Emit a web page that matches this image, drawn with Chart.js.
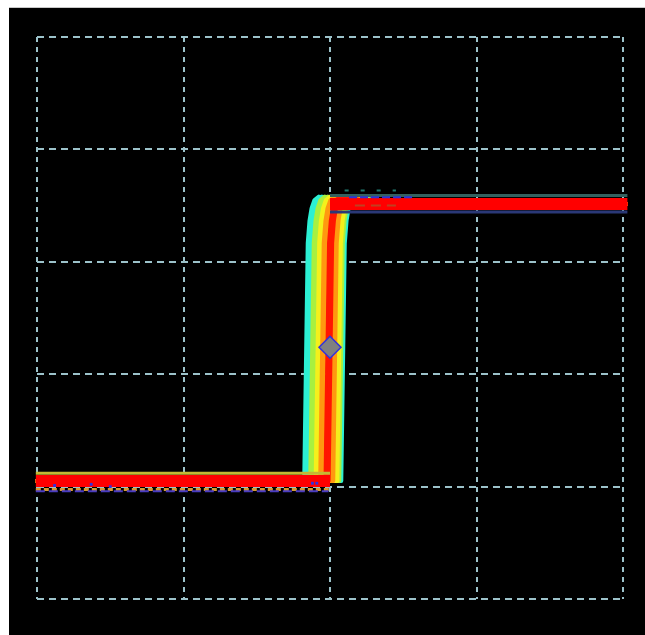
<!DOCTYPE html>
<html>
<head>
<meta charset="utf-8">
<script src="https://cdn.jsdelivr.net/npm/chart.js@4/dist/chart.umd.min.js"></script>
<style>
  html, body { margin: 0; padding: 0; background: #ffffff; }
  #panel { position: absolute; left: 9px; top: 7px; width: 636px; height: 628px; background: #000; border-top: 1px solid #c8c8c8; box-sizing: border-box; }
  #scope { position: absolute; left: 0; top: 0; }
</style>
</head>
<body>
<div id="panel"></div>
<canvas id="scope" width="645" height="635"></canvas>
<script>
// Screen: 4 horizontal x 5 vertical divisions
const xDivs = [0, 4];
const yDivs = [0, 5];

// Logic levels of the step (divisions from the bottom graticule line)
const lowLevel = 1.05;
const highLevel = 3.515;

// Horizontal extent of the recorded sweep
const sweepStart = -0.008;
const sweepEnd = 4.03;

// Rising-edge crossing times (50 % point) of the accumulated traces, by hit density
const rareEdges = [1.836, 1.857, 2.089];
const lowDensityEdges = [1.877, 1.898, 2.075];
const midDensityEdges = [1.914, 1.930, 2.048, 2.062];
const highDensityEdges = [1.945, 1.959, 2.020, 2.034];
const peakDensityEdges = [1.978, 1.993, 2.006];

// Isolated hits recorded on the flat parts of the waveform
const strayHitsX = [0.12, 0.37, 0.50, 1.88, 1.91];
const strayHitsY = [1.01, 1.02, 1.00, 1.03, 1.03];

// Reference marker at the 50 % crossing
const markerX = 2.0;
const markerY = 2.24;

// Colour ramp of the persistence display
const densityColors = {
  rare: '#2cf0d4',
  low: '#a8f040',
  mid: '#f4f01c',
  high: '#ff9810',
  peak: '#ff1600'
};

// One acquisition: flat low level, near-vertical edge, rounded settle into the high level
function edgeTrace(e) {
  return [
    { x: sweepStart, y: lowLevel },
    { x: e - 0.012, y: lowLevel },
    { x: e + 0.012, y: highLevel - 0.35 },
    { x: e + 0.024, y: highLevel - 0.15 },
    { x: e + 0.038, y: highLevel - 0.04 },
    { x: e + 0.058, y: highLevel + 0.035 },
    { x: e + 0.088, y: highLevel + 0.065 },
    { x: e + 0.14, y: highLevel + 0.055 },
    { x: e + 0.22, y: highLevel + 0.03 },
    { x: e + 0.40, y: highLevel },
    { x: sweepEnd, y: highLevel }
  ];
}

const layers = [];
function addEdges(list, color, width) {
  list.forEach(e => layers.push({
    type: 'line', data: edgeTrace(e), borderColor: color, borderWidth: width,
    pointRadius: 0, tension: 0, borderJoinStyle: 'round', clip: false
  }));
}
function addBand(x0, x1, level, color, width, dash) {
  layers.push({
    type: 'line', data: [{ x: x0, y: level }, { x: x1, y: level }],
    borderColor: color, borderWidth: width, borderDash: dash || [],
    pointRadius: 0, clip: false
  });
}

addEdges(rareEdges, densityColors.rare, 4);
addEdges(lowDensityEdges, densityColors.low, 4);
addEdges(midDensityEdges, densityColors.mid, 4);
addEdges(highDensityEdges, densityColors.high, 4);
addEdges(peakDensityEdges, densityColors.peak, 3);

// Low level band with its fringes
addBand(sweepStart, 2.0, lowLevel + 0.068, '#c4b834', 3);
addBand(sweepStart, 2.0, lowLevel - 0.075, '#d89a34', 3, [5, 3]);
addBand(sweepStart, 1.99, lowLevel - 0.092, '#4a3cc0', 2, [9, 4]);
addBand(sweepStart, 2.0, lowLevel, '#ff0000', 12);

// High level band with its fringes
addBand(2.10, 2.45, highLevel + 0.12, '#1f7a70', 2, [4, 12]);
addBand(2.0, sweepEnd, highLevel + 0.075, '#33605f', 3);
addBand(2.0, sweepEnd, highLevel - 0.072, '#2a3876', 3);
addBand(2.0, sweepEnd, highLevel, '#ff0000', 12);
addBand(2.13, 2.58, highLevel + 0.06, '#2c34d8', 2, [8, 3]);
addBand(2.17, 2.45, highLevel - 0.015, '#c04020', 2, [10, 6]);

layers.push({
  type: 'scatter',
  data: strayHitsX.map((x, i) => ({ x, y: strayHitsY[i] })),
  pointStyle: 'rect', pointRadius: 2, backgroundColor: '#3030e0', borderWidth: 0, clip: false
});

layers.push({
  type: 'scatter', data: [{ x: markerX, y: markerY }],
  pointStyle: 'rectRot', pointRadius: 11, backgroundColor: '#808080',
  borderColor: '#3030e0', borderWidth: 1.5, clip: false
});

layers.forEach((d, i) => { d.order = layers.length - i; });

const gridColor = '#9cc2ca';
new Chart(document.getElementById('scope'), {
  data: { datasets: layers },
  options: {
    responsive: false,
    animation: false,
    events: [],
    layout: { padding: { left: 37, right: 22, top: 37, bottom: 36 } },
    plugins: { legend: { display: false }, tooltip: { enabled: false } },
    scales: {
      x: {
        type: 'linear', min: xDivs[0], max: xDivs[1],
        ticks: { display: false, stepSize: 1 },
        grid: { color: gridColor, lineWidth: 2, drawTicks: false },
        border: { display: false, dash: [5, 5] }
      },
      y: {
        type: 'linear', min: yDivs[0], max: yDivs[1],
        ticks: { display: false, stepSize: 1 },
        grid: { color: gridColor, lineWidth: 2, drawTicks: false },
        border: { display: false, dash: [7, 5] }
      }
    }
  }
});
</script>
</body>
</html>
